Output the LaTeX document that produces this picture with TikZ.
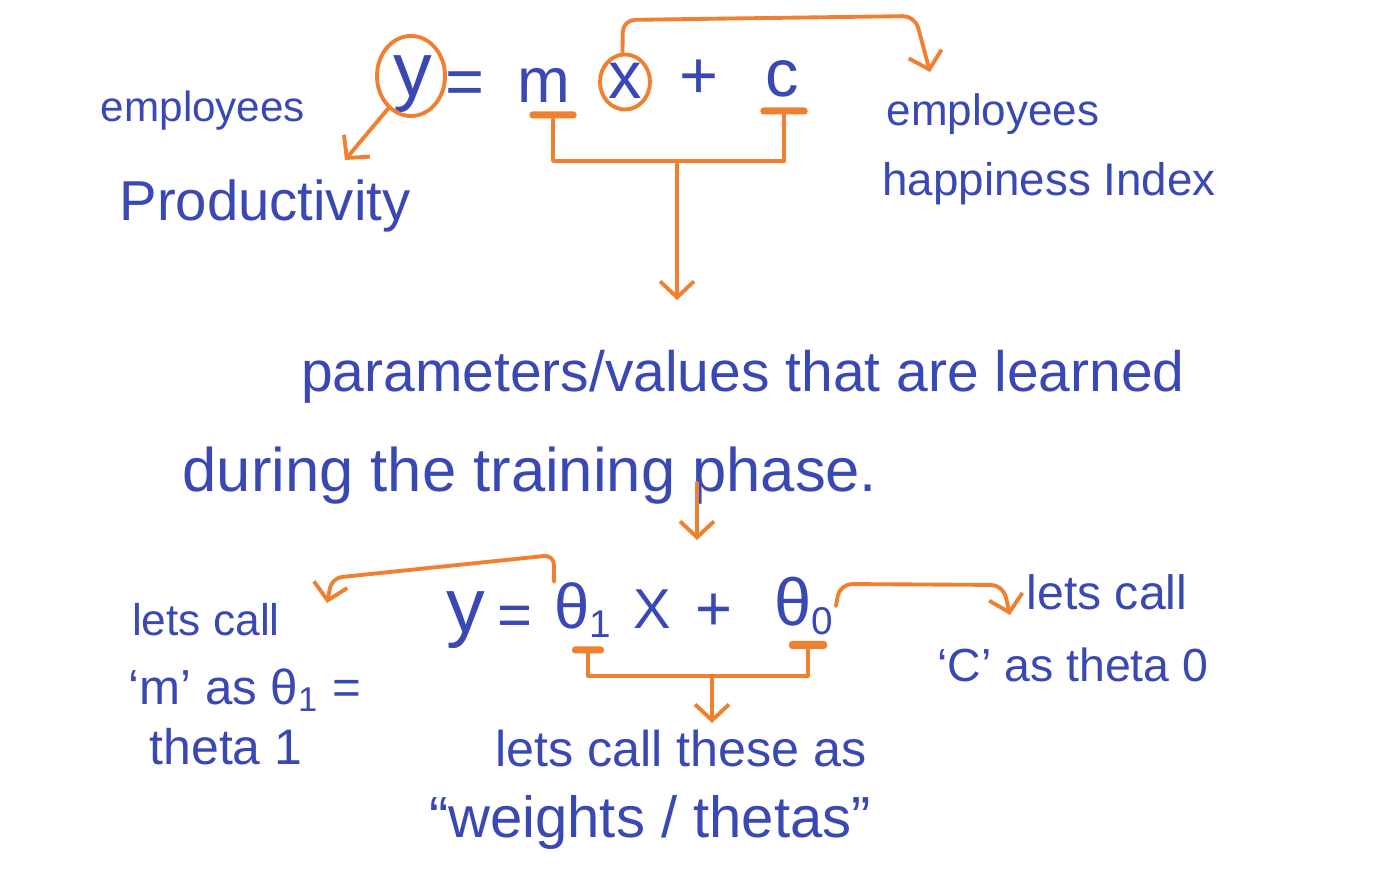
\documentclass[tikz,border=0pt]{standalone}
\usepackage{fontspec}
\setmainfont{Liberation Sans}
\usetikzlibrary{arrows.meta,shapes.geometric}
\definecolor{pen}{HTML}{3A48B4}
\definecolor{hl}{HTML}{F08030}
\newcommand\hfs[1]{\fontsize{#1}{#1}\selectfont}
\begin{document}
\begin{tikzpicture}[x=0.01cm,y=-0.01cm,
  txt/.style={text=pen, inner sep=0pt, anchor=center},
  ol/.style={draw=hl, line width=1.1pt, line cap=round, line join=round},
  oarr/.style={ol, -{Straight Barb[length=1.6mm,width=3.4mm]}},
  ubar/.style={fill=hl, rounded corners=0.03cm, minimum height=0.07cm, inner sep=0pt},
  ocirc/.style={ellipse, draw=hl, line width=1.1pt, inner sep=0pt}]
\useasboundingbox[fill=white] (0,0) rectangle (1400,886);

% ---- top equation ----
\node[txt, font=\hfs{22}] (y1) at (413,84) {y};
\node[ocirc, minimum width=0.68cm, minimum height=0.8cm] (yc) at (411,76) {};
\node[txt, font=\hfs{19}] (eq1) at (465,88) {=};
\node[txt, font=\hfs{18}] (m1) at (544,85) {m};
\node[txt, font=\hfs{19}] (x1) at (625,81) {x};
\node[ocirc, minimum width=0.5cm, minimum height=0.55cm] (xc) at (625,82) {};
\node[txt, font=\hfs{19}] (p1) at (699,79) {+};
\node[txt, font=\hfs{19}] (c1) at (782,79) {c};
\node[ubar, minimum width=0.47cm] (mu) at (553,115) {};
\node[ubar, minimum width=0.47cm] (cu) at (784,111) {};

\node[txt, font=\hfs{12}] (empL) at (203,111) {employees};
\node[txt, font=\hfs{16}] (prod) at (265,206) {Productivity};
\node[txt, font=\hfs{12.5}] (empR) at (993,114) {employees};
\node[txt, font=\hfs{13}] (happy) at (1049,184) {happiness Index};

\coordinate (ptip) at (345,160);
\draw[oarr] (yc.235) -- (ptip);

\coordinate (etip) at (930,72);
\draw[oarr, rounded corners=0.12cm] (xc.95) -- (623,20) -- (915,16) -- (etip);

\coordinate (tb) at (677,161);
\coordinate (ttip) at (677,300);
\draw[ol] (mu.south) |- (tb) -| (cu.south);
\draw[oarr] (tb) -- (ttip);

% ---- middle text ----
\node[txt, font=\hfs{16.2}] (params) at (743,377) {parameters/values that are learned};
\node[txt, font=\hfs{17.5}] (during) at (530,476) {during the training phase.};
\coordinate (mtop) at (697,483);
\coordinate (mtip) at (697,540);
\draw[oarr] (mtop) -- (mtip);

% ---- bottom equation ----
\node[txt, font=\hfs{22}] (y2) at (466,620) {y};
\node[txt, font=\hfs{17}] (eq2) at (515,621) {=};
\node[txt, font=\hfs{18}] (th1) at (584,610) {θ\textsubscript{\hfs{11}1}};
\node[txt, font=\hfs{16}] (x2) at (652,609) {X};
\node[txt, font=\hfs{18}] (p2) at (714,612) {+};
\node[txt, font=\hfs{19}] (th0) at (805,606) {θ\textsubscript{\hfs{11}0}};
\node[ubar, minimum width=0.32cm] (u1) at (588,650) {};
\node[ubar, minimum width=0.38cm, minimum height=0.08cm] (u0) at (808,645) {};

\coordinate (bb) at (712,676);
\coordinate (btip) at (712,723);
\draw[ol] (u1.south) |- (bb) -| (u0.south);
\draw[oarr] (bb) -- (btip);

\coordinate (ltip) at (327,603);
\draw[oarr, rounded corners=0.1cm] (th1.north west) -- (554,555) -- (332,578) -- (ltip);

\coordinate (rtip) at (1010,615);
\draw[oarr, rounded corners=0.12cm] (th0.east) -- (840,584) -- (1003,585) -- (rtip);

% ---- bottom texts ----
\node[txt, font=\hfs{12.6}] (lcL) at (206,620) {lets call};
\node[txt, font=\hfs{14}] (mas) at (245,690) {‘m’ as θ\textsubscript{1} =};
\node[txt, font=\hfs{14.2}] (th1t) at (226,747) {theta 1};
\node[txt, font=\hfs{13.7}] (lcR) at (1107,592) {lets call};
\node[txt, font=\hfs{13.2}] (cas) at (1073,665) {‘C’ as theta 0};
\node[txt, font=\hfs{14.3}] (lcth) at (681,749) {lets call these as};
\node[txt, font=\hfs{16.5}] (wts) at (650,823) {“weights / thetas”};
\end{tikzpicture}
\end{document}
